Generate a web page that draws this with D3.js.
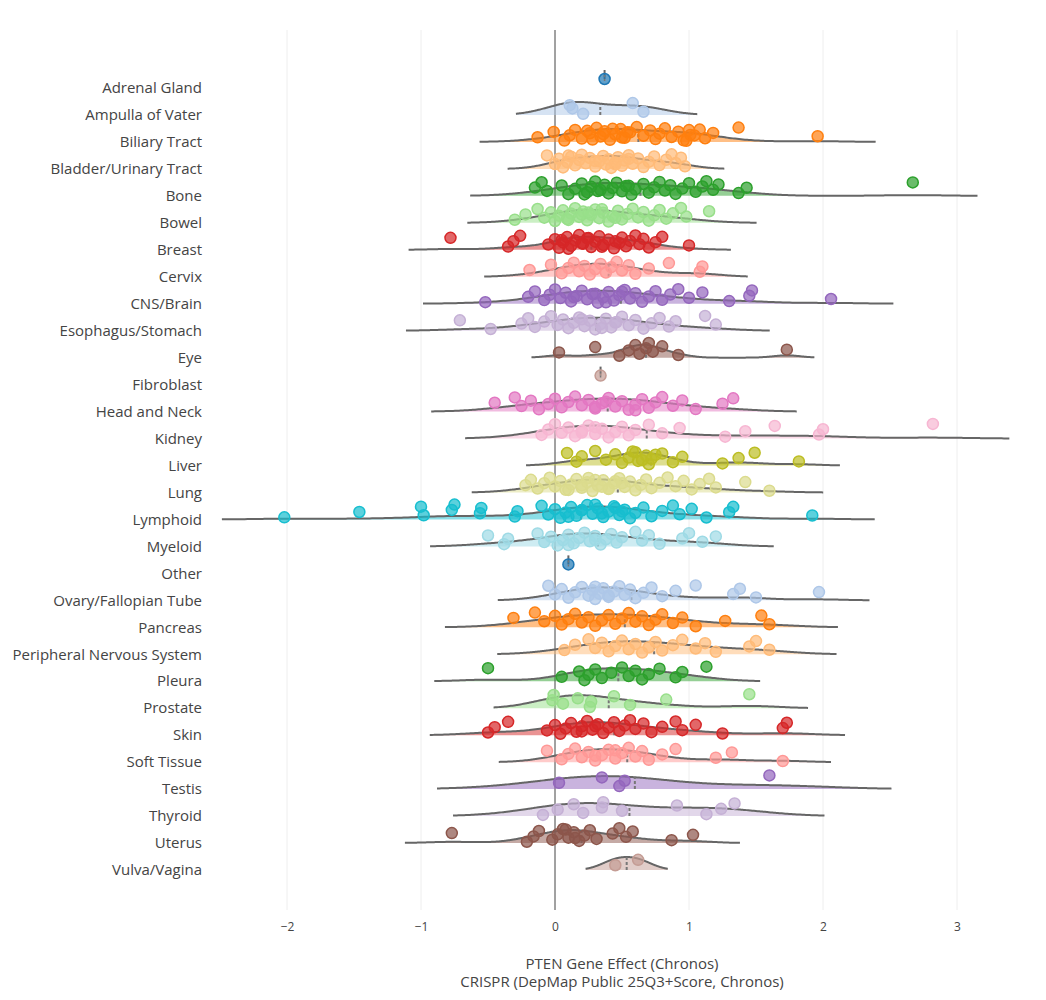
<!DOCTYPE html>
<html>
<head>
<meta charset="utf-8">
<script src="https://cdn.jsdelivr.net/npm/d3@7"></script>
<style>
  body { margin: 0; background: #fff; font-family: "Open Sans", Arial, sans-serif; }
</style>
</head>
<body>
<div id="chart"></div>
<script>
const lineages = ["Adrenal Gland", "Ampulla of Vater", "Biliary Tract", "Bladder/Urinary Tract", "Bone", "Bowel",
  "Breast", "Cervix", "CNS/Brain", "Esophagus/Stomach", "Eye", "Fibroblast", "Head and Neck", "Kidney", "Liver",
  "Lung", "Lymphoid", "Myeloid", "Other", "Ovary/Fallopian Tube", "Pancreas", "Peripheral Nervous System",
  "Pleura", "Prostate", "Skin", "Soft Tissue", "Testis", "Thyroid", "Uterus", "Vulva/Vagina"];

const palette = ["#1f77b4", "#aec7e8", "#ff7f0e", "#ffbb78", "#2ca02c", "#98df8a", "#d62728", "#ff9896",
  "#9467bd", "#c5b0d5", "#8c564b", "#c49c94", "#e377c2", "#f7b6d2", "#bcbd22", "#dbdb8d", "#17becf", "#9edae5"];

const xTicks = [-2, -1, 0, 1, 2, 3];

const adrenal = [0.37];
const ampulla = [0.11, 0.21, 0.13, 0.58, 0.66];
const biliary = [-0.13, -0.01, 0.07, 0.11, 0.15, 0.2, 0.26, 0.31, 0.34, 0.37, 0.41, 0.45, 0.49, 0.52, 0.56, 0.61, 0.66,
  0.71, 0.75, 0.78, 0.82, 0.87, 0.92, 0.96, 1.01, 1.08, 1.12, 1.18, 1.37, 1.96, 0.24, 0.28, 0.36, 0.43, 0.5, 0.54, 0.98, 1.04, 1.0];
const bladder = [-0.06, 0.0, 0.03, 0.06, 0.09, 0.12, 0.15, 0.18, 0.2, 0.23, 0.26, 0.3, 0.33, 0.36, 0.38, 0.4, 0.42, 0.45,
  0.47, 0.5, 0.52, 0.55, 0.58, 0.62, 0.66, 0.7, 0.74, 0.78, 0.83, 0.87, 0.9, 0.94, 0.97, 0.3, 0.1, 0.45, 0.55];
const bone = [-0.15, -0.1, -0.06, 0.05, 0.1, 0.15, 0.2, 0.24, 0.27, 0.3, 0.34, 0.37, 0.4, 0.43, 0.46, 0.5, 0.53, 0.57,
  0.6, 0.66, 0.7, 0.74, 0.78, 0.82, 0.86, 0.9, 0.95, 1.0, 1.05, 1.1, 1.13, 1.18, 1.22, 1.37, 1.43, 2.67, 0.32, 0.55, 0.22];
const bowel = [-0.3, -0.22, -0.13, -0.08, -0.03, 0.0, 0.03, 0.06, 0.09, 0.12, 0.15, 0.18, 0.21, 0.24, 0.27, 0.3, 0.33,
  0.36, 0.4, 0.43, 0.47, 0.5, 0.54, 0.58, 0.62, 0.66, 0.7, 0.74, 0.78, 0.83, 0.88, 0.94, 0.98, 1.15, 0.1, 0.2, 0.35, 0.45, 0.25];
const breast = [-0.78, -0.35, -0.31, -0.26, -0.05, 0.0, 0.03, 0.06, 0.09, 0.12, 0.15, 0.18, 0.21, 0.24, 0.27, 0.3, 0.33,
  0.36, 0.4, 0.44, 0.48, 0.5, 0.53, 0.56, 0.6, 0.63, 0.66, 0.7, 0.75, 0.8, 1.0, 0.05, 0.1, 0.2, 0.25, 0.35, 0.45];
const cervix = [-0.19, -0.03, 0.05, 0.1, 0.14, 0.18, 0.22, 0.26, 0.3, 0.34, 0.38, 0.42, 0.46, 0.5, 0.55, 0.6, 0.7, 0.85, 1.08, 1.1];
const cns = [-0.52, -0.2, -0.15, -0.08, -0.04, 0.0, 0.04, 0.08, 0.12, 0.16, 0.2, 0.24, 0.28, 0.32, 0.36, 0.4, 0.44, 0.48,
  0.52, 0.56, 0.6, 0.65, 0.7, 0.75, 0.8, 0.86, 0.92, 1.0, 1.1, 1.3, 1.45, 1.47, 2.06, 0.3, 0.38, 0.14, 0.5];
const esophagus = [-0.71, -0.48, -0.25, -0.2, -0.15, -0.08, -0.03, 0.02, 0.06, 0.1, 0.14, 0.18, 0.22, 0.26, 0.3, 0.34,
  0.38, 0.42, 0.46, 0.5, 0.55, 0.6, 0.66, 0.72, 0.78, 0.85, 0.9, 1.12, 1.2, 0.2, 0.35, 0.45];
const eye = [0.03, 0.3, 0.48, 0.55, 0.6, 0.63, 0.68, 0.7, 0.73, 0.8, 0.92, 1.73];
const fibroblast = [0.34];
const headNeck = [-0.45, -0.3, -0.25, -0.18, -0.12, -0.05, 0.0, 0.05, 0.1, 0.15, 0.2, 0.25, 0.3, 0.35, 0.4, 0.45, 0.5,
  0.55, 0.6, 0.65, 0.7, 0.75, 0.8, 0.88, 0.95, 1.05, 1.25, 1.33, 0.3, 0.38, 0.6];
const kidney = [-0.1, -0.05, 0.0, 0.05, 0.1, 0.15, 0.2, 0.25, 0.3, 0.35, 0.4, 0.45, 0.5, 0.55, 0.6, 0.7, 0.8, 0.93, 1.27,
  1.42, 1.64, 1.97, 2.0, 2.82, 0.2, 0.3];
const liver = [0.09, 0.16, 0.2, 0.3, 0.38, 0.45, 0.5, 0.55, 0.6, 0.62, 0.68, 0.7, 0.72, 0.8, 0.88, 0.95, 0.58, 0.65, 0.75,
  1.25, 1.37, 1.49, 1.82];
const lung = [-0.22, -0.18, -0.13, -0.08, -0.04, 0.0, 0.04, 0.08, 0.12, 0.16, 0.2, 0.24, 0.28, 0.32, 0.36, 0.4, 0.44,
  0.48, 0.52, 0.56, 0.6, 0.64, 0.68, 0.72, 0.78, 0.84, 0.9, 0.96, 1.02, 1.08, 1.15, 1.2, 1.42, 1.6, 0.2, 0.3, 0.4, 0.5,
  0.25, 0.35, 0.45, 0.1];
const lymphoid = [-2.02, -1.46, -1.0, -0.98, -0.77, -0.75, -0.56, -0.55, -0.3, -0.28, -0.1, -0.05, 0.0, 0.04, 0.08, 0.12,
  0.16, 0.2, 0.24, 0.28, 0.32, 0.36, 0.4, 0.44, 0.48, 0.52, 0.56, 0.6, 0.66, 0.72, 0.8, 0.88, 0.93, 1.02, 1.13, 1.3, 1.33,
  1.92, 0.2, 0.3, 0.35, 0.45, 0.1, 0.5];
const myeloid = [-0.5, -0.38, -0.35, -0.13, -0.08, -0.03, 0.02, 0.06, 0.1, 0.14, 0.18, 0.22, 0.26, 0.3, 0.34, 0.38,
  0.42, 0.46, 0.5, 0.6, 0.65, 0.7, 0.78, 0.95, 1.0, 1.1, 1.2, 0.1, 0.3];
const other = [0.1];
const ovary = [-0.05, 0.0, 0.05, 0.1, 0.15, 0.2, 0.25, 0.28, 0.3, 0.33, 0.36, 0.4, 0.44, 0.48, 0.52, 0.56, 0.6, 0.66,
  0.72, 0.8, 0.9, 1.05, 1.33, 1.38, 1.5, 1.97, 0.3, 0.4];
const pancreas = [-0.31, -0.15, -0.08, 0.0, 0.05, 0.1, 0.15, 0.2, 0.25, 0.3, 0.35, 0.4, 0.45, 0.5, 0.55, 0.6, 0.65,
  0.7, 0.75, 0.8, 0.88, 0.95, 1.05, 1.27, 1.54, 1.6];
const pns = [0.07, 0.15, 0.25, 0.3, 0.35, 0.4, 0.45, 0.5, 0.55, 0.6, 0.65, 0.7, 0.75, 0.8, 0.88, 0.95, 1.05, 1.12, 1.2,
  1.45, 1.5, 1.6];
const pleura = [-0.5, 0.05, 0.18, 0.22, 0.25, 0.3, 0.35, 0.42, 0.5, 0.55, 0.6, 0.65, 0.7, 0.78, 0.9, 0.95, 1.13];
const prostate = [-0.02, -0.01, 0.06, 0.17, 0.26, 0.27, 0.44, 0.56, 0.83, 1.45];
const skin = [-0.5, -0.45, -0.35, -0.06, 0.0, 0.04, 0.08, 0.12, 0.16, 0.2, 0.24, 0.28, 0.32, 0.36, 0.4, 0.44, 0.48, 0.52,
  0.56, 0.6, 0.66, 0.72, 0.8, 0.9, 0.95, 1.05, 1.25, 1.7, 1.73, 0.2, 0.3];
const softTissue = [-0.06, 0.05, 0.1, 0.15, 0.2, 0.25, 0.3, 0.35, 0.4, 0.45, 0.5, 0.55, 0.6, 0.65, 0.7, 0.8, 0.9, 1.2,
  1.32, 1.7, 0.3, 0.45];
const testis = [0.03, 0.35, 0.48, 0.52, 1.6];
const thyroid = [-0.09, 0.02, 0.14, 0.21, 0.35, 0.36, 0.5, 0.91, 1.13, 1.24, 1.34];
const uterus = [-0.77, -0.21, -0.16, -0.12, -0.02, 0.02, 0.06, 0.1, 0.14, 0.18, 0.22, 0.26, 0.31, 0.43, 0.48, 0.53, 0.58,
  0.87, 1.03, 0.08, 0.15];
const vulva = [0.45, 0.62];

const values = [adrenal, ampulla, biliary, bladder, bone, bowel, breast, cervix, cns, esophagus, eye, fibroblast,
  headNeck, kidney, liver, lung, lymphoid, myeloid, other, ovary, pancreas, pns, pleura, prostate, skin, softTissue,
  testis, thyroid, uterus, vulva];

const width = 1046, height = 1000;
const svg = d3.select("#chart").append("svg").attr("width", width).attr("height", height);

const x = d3.scaleLinear().domain([-2, 3]).range([287, 957]);
const y = d3.scalePoint().domain(lineages).range([88, 870]);
const plotTop = 30, plotBottom = 910;

// grid
svg.append("g").selectAll("line").data(xTicks.filter(d => d !== 0)).join("line")
  .attr("x1", d => x(d)).attr("x2", d => x(d)).attr("y1", plotTop).attr("y2", plotBottom)
  .attr("stroke", "#eee").attr("stroke-width", 1);
svg.append("line").attr("x1", x(0)).attr("x2", x(0)).attr("y1", plotTop).attr("y2", plotBottom)
  .attr("stroke", "#444").attr("stroke-width", 1);

// x axis
const xAxis = svg.append("g").attr("transform", `translate(0,${plotBottom})`)
  .call(d3.axisBottom(x).tickValues(xTicks).tickSize(0).tickPadding(12).tickFormat(d => d < 0 ? "\u2212" + (-d) : d));
xAxis.select(".domain").remove();
xAxis.selectAll("text").attr("font-size", 12).attr("fill", "#444").attr("font-family", "Open Sans, sans-serif");

// y labels
svg.append("g").selectAll("text").data(lineages).join("text")
  .attr("x", 202).attr("y", d => y(d)).attr("dy", "0.35em").attr("text-anchor", "end")
  .attr("font-size", 15).attr("fill", "#444").text(d => d);

svg.append("text").attr("x", 622).attr("y", 969).attr("text-anchor", "middle").attr("font-size", 15)
  .attr("fill", "#444").text("PTEN Gene Effect (Chronos)");
svg.append("text").attr("x", 622).attr("y", 987).attr("text-anchor", "middle").attr("font-size", 15)
  .attr("fill", "#444").text("CRISPR (DepMap Public 25Q3+Score, Chronos)");

const violinHeight = 13;
const gauss = u => Math.exp(-0.5 * u * u) / Math.sqrt(2 * Math.PI);

lineages.forEach((name, i) => {
  const data = values[i];
  const color = palette[i % palette.length];
  const base = y(name);
  const g = svg.append("g");
  const mean = d3.mean(data);

  if (data.length > 1) {
    const sorted = data.slice().sort(d3.ascending);
    const sd = d3.deviation(data);
    const iqr = d3.quantile(sorted, 0.75) - d3.quantile(sorted, 0.25);
    const spread = data.length < 8 ? sd : Math.min(sd, iqr / 1.349);
    const bw = 1.059 * spread * Math.pow(data.length, -0.2);
    const lo = d3.min(data) - 2 * bw, hi = d3.max(data) + 2 * bw;
    const grid = d3.range(0, 201).map(k => lo + (hi - lo) * k / 200);
    const dens = grid.map(v => [v, d3.mean(data, d => gauss((v - d) / bw)) / bw]);
    const dMax = d3.max(dens, d => d[1]);
    const h = d3.scaleLinear().domain([0, dMax]).range([0, violinHeight]);
    const area = d3.area().x(d => x(d[0])).y0(base).y1(d => base - h(d[1])).curve(d3.curveBasis);
    g.append("path").datum(dens).attr("d", area).attr("fill", color).attr("fill-opacity", 0.5).attr("stroke", "none");
    g.append("path").datum(dens).attr("d", d3.line().x(d => x(d[0])).y(d => base - h(d[1])).curve(d3.curveBasis))
      .attr("fill", "none").attr("stroke", "#666").attr("stroke-width", 2);
    const mDens = d3.mean(data, d => gauss((mean - d) / bw)) / bw;
    g.append("line").attr("x1", x(mean)).attr("x2", x(mean)).attr("y1", base).attr("y2", base - h(mDens))
      .attr("stroke", "#777").attr("stroke-width", 2).attr("stroke-dasharray", "3,2");
  } else {
    g.append("line").attr("x1", x(mean)).attr("x2", x(mean)).attr("y1", base - 9).attr("y2", base - 18)
      .attr("stroke", "#666").attr("stroke-width", 2);
  }

  g.selectAll("circle").data(data).join("circle")
    .attr("cx", d => x(d))
    .attr("cy", (d, j) => data.length > 1 ? base - 8 + (((j * 0.6180339 + i * 0.37) % 1) * 2 - 1) * 7 : base - 9)
    .attr("r", 5.5)
    .attr("fill", color).attr("fill-opacity", 0.7)
    .attr("stroke", color).attr("stroke-width", 1.5);

  if (data.length === 1) {
    g.append("line").attr("x1", x(mean)).attr("x2", x(mean)).attr("y1", base - 13).attr("y2", base - 5)
      .attr("stroke", "#777").attr("stroke-width", 1.5).attr("stroke-dasharray", "2,2");
  }
});
</script>
</body>
</html>
